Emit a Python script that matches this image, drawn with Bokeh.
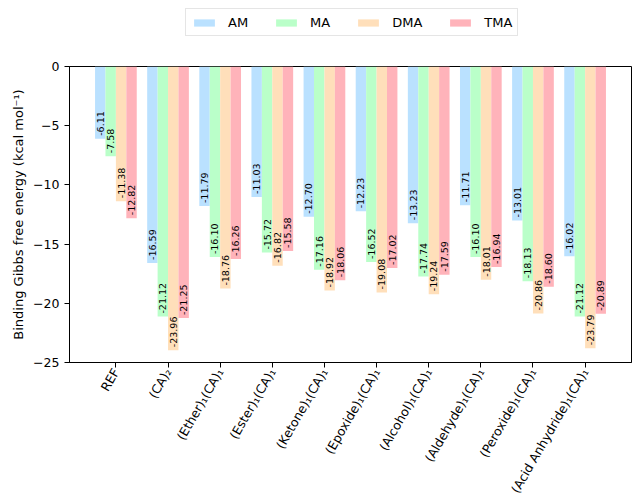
import math
from bokeh.plotting import figure
from bokeh.layouts import column
from bokeh.models import (ColumnDataSource, Range1d, FixedTicker, Legend, LegendItem)
from bokeh.core.properties import value
from bokeh.embed import file_html
from bokeh.resources import INLINE

categories = ["REF", "(CA)\u2082", "(Ether)\u2081(CA)\u2081", "(Ester)\u2081(CA)\u2081",
              "(Ketone)\u2081(CA)\u2081", "(Epoxide)\u2081(CA)\u2081", "(Alcohol)\u2081(CA)\u2081",
              "(Aldehyde)\u2081(CA)\u2081", "(Peroxide)\u2081(CA)\u2081",
              "(Acid Anhydride)\u2081(CA)\u2081"]
series_names = ["AM", "MA", "DMA", "TMA"]
am = [-6.11, -16.59, -11.79, -11.03, -12.70, -12.23, -13.23, -11.71, -13.01, -16.02]
ma = [-7.58, -21.12, -16.10, -15.72, -17.16, -16.52, -17.74, -16.10, -18.13, -21.12]
dma = [-11.38, -23.96, -18.76, -16.82, -18.92, -19.08, -19.24, -18.01, -20.86, -23.79]
tma = [-12.82, -21.25, -16.26, -15.58, -18.06, -17.02, -17.59, -16.94, -18.60, -20.89]
y_ticks = [0, -5, -10, -15, -20, -25]

series = [am, ma, dma, tma]
colors = ["#BAE1FF", "#BAFFC9", "#FFDFBA", "#FFB3BA"]
offsets = [-0.3, -0.1, 0.1, 0.3]
bar_w = 0.2
FONT = "DejaVu Sans"

# ---- legend strip (separate figure above the chart; its bars lie outside its view) ----
lf = figure(width=632, height=40, output_backend="svg", toolbar_location=None,
            x_axis_location=None, y_axis_location=None,
            x_range=Range1d(-0.89, 9.89), y_range=Range1d(100, 101),
            min_border=0, min_border_left=0, min_border_right=0,
            min_border_top=0, min_border_bottom=0)
lf.xgrid.visible = False
lf.ygrid.visible = False
lf.outline_line_color = None

# ---- main chart ----
p = figure(width=632, height=464, output_backend="svg", toolbar_location=None,
           x_range=Range1d(-0.89, 9.89), y_range=Range1d(-25, 0),
           min_border_left=69, min_border_right=1, min_border_top=26, min_border_bottom=142)

p.xgrid.visible = False
p.ygrid.visible = False
p.outline_line_color = "black"
p.outline_line_width = 1
p.background_fill_color = "white"

items = []
for name, vals, col, off in zip(series_names, series, colors, offsets):
    xs = [i + off for i in range(len(vals))]
    src = ColumnDataSource(dict(x=xs, top=[0] * len(vals), bottom=vals,
                                label=["%.2f" % v for v in vals]))
    p.vbar(x="x", top="top", bottom="bottom", width=bar_w, source=src,
           fill_color=col, line_color=None)
    p.text(x="x", y="bottom", text="label", source=src, angle=math.pi / 2,
           text_align="left", text_baseline="middle", y_offset=-3,
           text_font=value(FONT), text_font_size="9.5px", text_color="black")
    swatch = lf.vbar(x="x", top="top", bottom="bottom", width=bar_w, source=src,
                     fill_color=col, line_color=None)
    items.append(LegendItem(label=name, renderers=[swatch]))

legend = Legend(items=items, orientation="horizontal", location=(116, 4),
                label_text_font=FONT, label_text_font_size="13px", label_text_color="black",
                glyph_width=26, glyph_height=9, label_height=16, label_standoff=11,
                spacing=25, padding=5, margin=0,
                border_line_color="#cccccc", border_line_width=1,
                background_fill_color="white", background_fill_alpha=1.0)
lf.add_layout(legend)

# x axis
xa = p.xaxis[0]
xa.ticker = FixedTicker(ticks=list(range(len(categories))))
xa.major_label_overrides = {i: c for i, c in enumerate(categories)}
xa.major_label_orientation = math.pi / 3
xa.major_label_text_font = FONT
xa.major_label_text_font_size = "12.5px"
xa.major_label_text_color = "black"
xa.major_label_standoff = 2
xa.major_tick_in = 0
xa.major_tick_out = 5
xa.minor_tick_line_color = None
xa.axis_line_color = "black"
xa.major_tick_line_color = "black"

# y axis
ya = p.yaxis[0]
ya.ticker = FixedTicker(ticks=y_ticks)
ya.major_label_overrides = {t: ("\u2212%d" % -t if t < 0 else "%d" % t) for t in y_ticks}
ya.major_label_text_font = FONT
ya.major_label_text_font_size = "12.5px"
ya.major_label_text_color = "black"
ya.major_label_standoff = 5
ya.major_tick_in = 0
ya.major_tick_out = 5
ya.minor_tick_line_color = None
ya.axis_line_color = "black"
ya.major_tick_line_color = "black"
ya.axis_label = "Binding Gibbs free energy (kcal mol\u207b\u00b9)"
ya.axis_label_text_font = FONT
ya.axis_label_text_font_size = "13px"
ya.axis_label_text_font_style = "normal"
ya.axis_label_text_color = "black"
ya.axis_label_standoff = 4

layout = column(lf, p, spacing=0)
open("out.html", "w").write(file_html(layout, INLINE))
